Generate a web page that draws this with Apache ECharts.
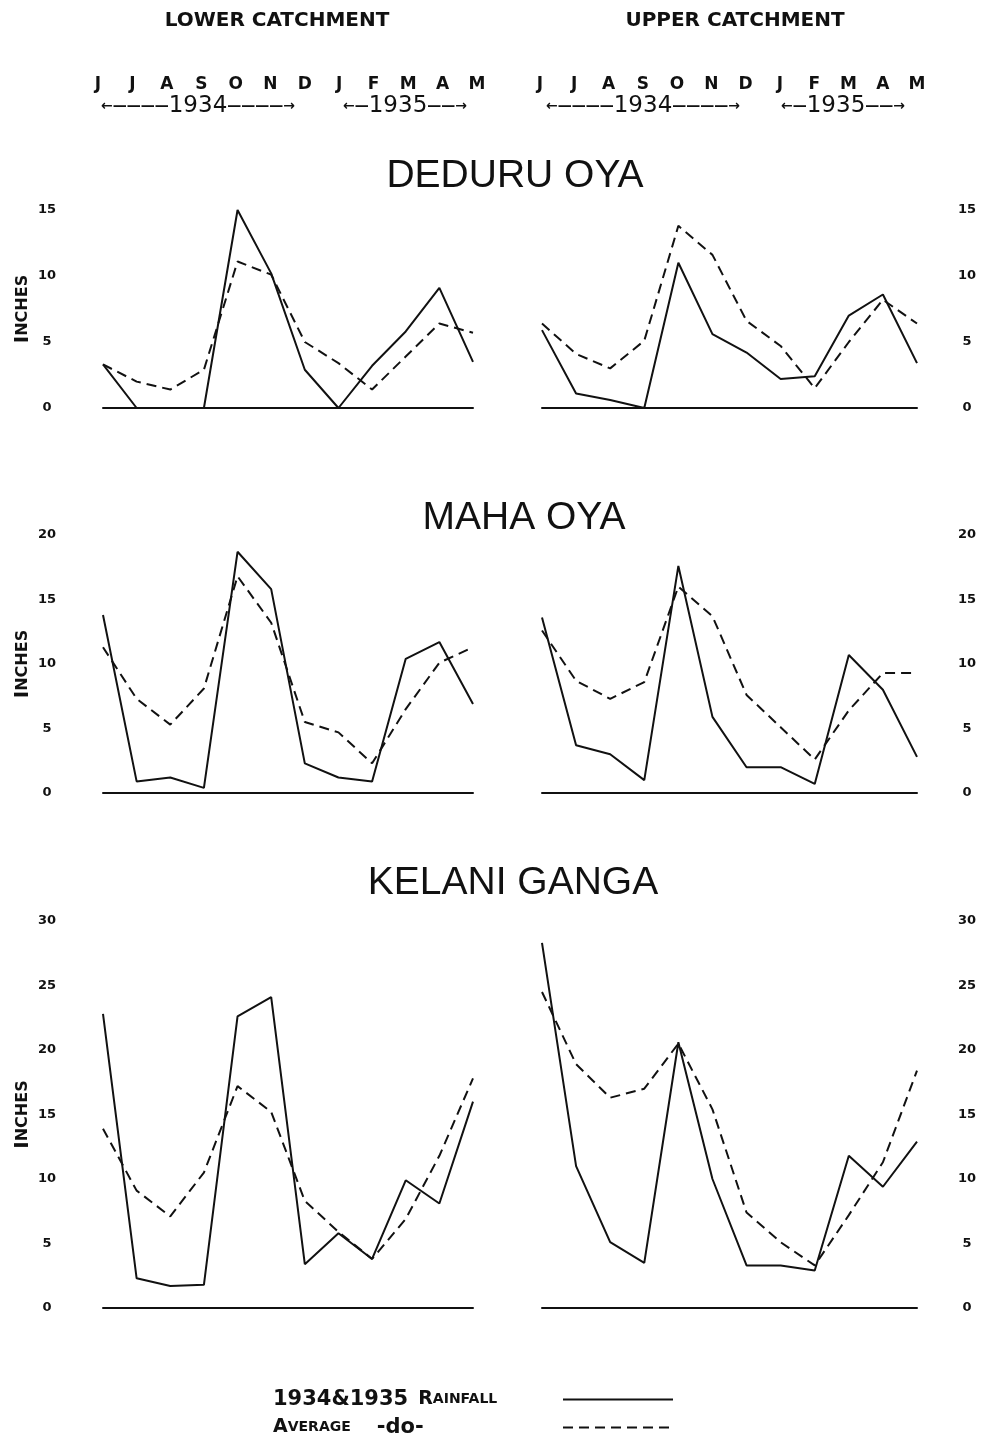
<!DOCTYPE html>
<html>
<head>
<meta charset="utf-8">
<title>Rainfall 1934-35</title>
<script src="https://cdn.jsdelivr.net/npm/echarts@6/dist/echarts.min.js"></script>
<style>
  html, body { margin: 0; padding: 0; background: #fff; }
  #chart { width: 993px; height: 1444px; }
</style>
</head>
<body>
<div id="chart"></div>
<script>
// months June 1934 .. May 1935
var months = ['J', 'J', 'A', 'S', 'O', 'N', 'D', 'J', 'F', 'M', 'A', 'M']

// Deduru Oya
var deduruLowerRain = [3.3, 0, 0, 0, 15, 10.2, 2.9, 0, 3.2, 5.8, 9.1, 3.5]
var deduruLowerAvg = [3.3, 2.0, 1.4, 2.9, 11.1, 10.1, 5.0, 3.4, 1.4, 3.9, 6.4, 5.7]
var deduruUpperRain = [5.9, 1.1, 0.6, 0, 11, 5.6, 4.2, 2.2, 2.4, 7.0, 8.6, 3.4]
var deduruUpperAvg = [6.4, 4.1, 3.0, 5.1, 13.8, 11.6, 6.6, 4.7, 1.5, 5.0, 8.2, 6.4]

// Maha Oya
var mahaLowerRain = [13.8, 0.9, 1.2, 0.4, 18.7, 15.8, 2.3, 1.2, 0.9, 10.4, 11.7, 6.9]
var mahaLowerAvg = [11.3, 7.3, 5.3, 8.1, 16.8, 13.2, 5.5, 4.7, 2.3, 6.5, 10.1, 11.3]
var mahaUpperRain = [13.6, 3.7, 3.0, 1.0, 17.6, 5.9, 2.0, 2.0, 0.7, 10.7, 8.0, 2.8]
var mahaUpperAvg = [12.6, 8.7, 7.3, 8.6, 16.0, 13.7, 7.6, 5.1, 2.6, 6.4, 9.3, 9.3]

// Kelani Ganga
var kelaniLowerRain = [22.8, 2.3, 1.7, 1.8, 22.6, 24.1, 3.4, 5.8, 3.8, 9.9, 8.1, 16.0]
var kelaniLowerAvg = [13.9, 9.1, 7.1, 10.5, 17.2, 15.2, 8.3, 5.9, 3.8, 6.9, 11.8, 17.8]
var kelaniUpperRain = [28.3, 11.0, 5.1, 3.5, 20.6, 10.0, 3.3, 3.3, 2.9, 11.8, 9.4, 12.9]
var kelaniUpperAvg = [24.5, 18.9, 16.3, 17.0, 20.5, 15.4, 7.4, 5.1, 3.3, 7.2, 11.3, 18.4]

var axisMax = [15, 20, 30]

var chart = echarts.init(document.getElementById('chart'))

var font = 'DejaVu Sans'
var rows = [
	{ top: 210, height: 198 },
	{ top: 535, height: 258 },
	{ top: 921, height: 387 }
]
var cols = [
	{ left: 103, width: 370 },
	{ left: 542, width: 375 }
]

var grids = []
var xAxes = []
var yAxes = []
var series = []
var rainData = [
	[deduruLowerRain, deduruUpperRain],
	[mahaLowerRain, mahaUpperRain],
	[kelaniLowerRain, kelaniUpperRain]
]
var avgData = [
	[deduruLowerAvg, deduruUpperAvg],
	[mahaLowerAvg, mahaUpperAvg],
	[kelaniLowerAvg, kelaniUpperAvg]
]

rows.forEach(function (r, ri) {
	cols.forEach(function (c, ci) {
		var idx = grids.length
		grids.push({ left: c.left, width: c.width, top: r.top, height: r.height })
		xAxes.push({
			type: 'category',
			gridIndex: idx,
			data: months,
			boundaryGap: false,
			axisLine: { lineStyle: { color: '#111', width: 2 } },
			axisTick: { show: false },
			axisLabel: { show: false }
		})
		yAxes.push({
			type: 'value',
			gridIndex: idx,
			min: 0,
			max: axisMax[ri],
			interval: 5,
			position: ci === 0 ? 'left' : 'right',
			name: ci === 0 ? '{big|I}{sm|NCHES}' : '',
			nameLocation: 'middle',
			nameRotate: 90,
			nameGap: 70,
			nameTextStyle: {
				rich: {
					big: { fontFamily: font, fontWeight: 'bold', fontSize: 20, color: '#111' },
					sm: { fontFamily: font, fontWeight: 'bold', fontSize: 16, color: '#111' }
				}
			},
			axisLine: { show: false },
			axisTick: { show: false },
			splitLine: { show: false },
			axisLabel: {
				align: 'center',
				margin: ci === 0 ? 56 : 50,
				fontFamily: font,
				fontWeight: 'bold',
				fontSize: 13,
				color: '#111'
			}
		})
		series.push({
			name: '1934&1935 Rainfall',
			type: 'line',
			xAxisIndex: idx,
			yAxisIndex: idx,
			data: rainData[ri][ci],
			symbol: 'none',
			lineStyle: { color: '#111', width: 2 },
			itemStyle: { color: '#111' },
			animation: false
		})
		series.push({
			name: 'Average -do-',
			type: 'line',
			xAxisIndex: idx,
			yAxisIndex: idx,
			data: avgData[ri][ci],
			symbol: 'none',
			lineStyle: { color: '#111', width: 2, type: [10, 6] },
			itemStyle: { color: '#111' },
			animation: false
		})
	})
})

// month letters above the top row
var monthGrids = [
	{ left: 98, width: 379 },
	{ left: 540, width: 377 }
]
monthGrids.forEach(function (g) {
	var idx = grids.length
	grids.push({ left: g.left, width: g.width, top: 100, height: 1 })
	xAxes.push({
		type: 'category',
		gridIndex: idx,
		data: months,
		boundaryGap: false,
		position: 'top',
		axisLine: { show: false },
		axisTick: { show: false },
		axisLabel: {
			interval: 0,
			margin: 7,
			fontFamily: font,
			fontWeight: 'bold',
			fontSize: 17,
			color: '#111'
		}
	})
	yAxes.push({ type: 'value', gridIndex: idx, show: false })
})

// year spans under the month letters
function years(text, x) {
	return {
		type: 'text',
		left: x,
		top: 95,
		style: {
			text: text,
			rich: {
				ar: { fontFamily: font, fontSize: 14, fontWeight: 'bold', fill: '#111' },
				yr: { fontFamily: font, fontSize: 23, fill: '#111' }
			}
		}
	}
}

var riverTitle = { fontFamily: 'Liberation Sans', fontSize: 39, fontWeight: 'normal', color: '#111' }

chart.setOption({
	backgroundColor: '#fff',
	animation: false,
	title: [
		{ text: 'LOWER CATCHMENT', left: 272, textAlign: 'center', top: 6, textStyle: { fontFamily: font, fontSize: 20, fontWeight: 'bold', color: '#111' } },
		{ text: 'UPPER CATCHMENT', left: 730, textAlign: 'center', top: 6, textStyle: { fontFamily: font, fontSize: 20, fontWeight: 'bold', color: '#111' } },
		{ text: 'DEDURU OYA', left: 510, textAlign: 'center', top: 152, textStyle: riverTitle },
		{ text: 'MAHA OYA', left: 519, textAlign: 'center', top: 494, textStyle: riverTitle },
		{ text: 'KELANI GANGA', left: 508, textAlign: 'center', top: 859, textStyle: riverTitle }
	],
	graphic: [
		years('{ar|←————}{yr|1934}{ar|————→}', 101),
		years('{ar|←—}{yr|1935}{ar|——→}', 343),
		years('{ar|←————}{yr|1934}{ar|————→}', 546),
		years('{ar|←—}{yr|1935}{ar|——→}', 781)
	],
	legend: {
		left: 268,
		top: 1384,
		orient: 'vertical',
		align: 'right',
		itemWidth: 110,
		itemHeight: 14,
		itemGap: 7,
		selectedMode: false,
		itemStyle: { opacity: 0 },
		formatter: function (name) {
			if (name === 'Average -do-') {
				return '{big|A}{sm|VERAGE}{gap2|}{do|-do-}'
			}
			return '{num|1934&1935}{gap|}{big|R}{sm|AINFALL}'
		},
		textStyle: {
			width: 285,
			color: '#111',
			rich: {
				num: { fontFamily: font, fontSize: 21, fontWeight: 'bold', color: '#111', align: 'left' },
				big: { fontFamily: font, fontSize: 19, fontWeight: 'bold', color: '#111', align: 'left' },
				sm: { fontFamily: font, fontSize: 14, fontWeight: 'bold', color: '#111', align: 'left' },
				do: { fontFamily: font, fontSize: 21, fontWeight: 'bold', color: '#111', align: 'left' },
				gap: { width: 10, align: 'left' },
				gap2: { width: 26, align: 'left' }
			}
		},
		data: ['1934&1935 Rainfall', 'Average -do-']
	},
	grid: grids,
	xAxis: xAxes,
	yAxis: yAxes,
	series: series
})
</script>
</body>
</html>
